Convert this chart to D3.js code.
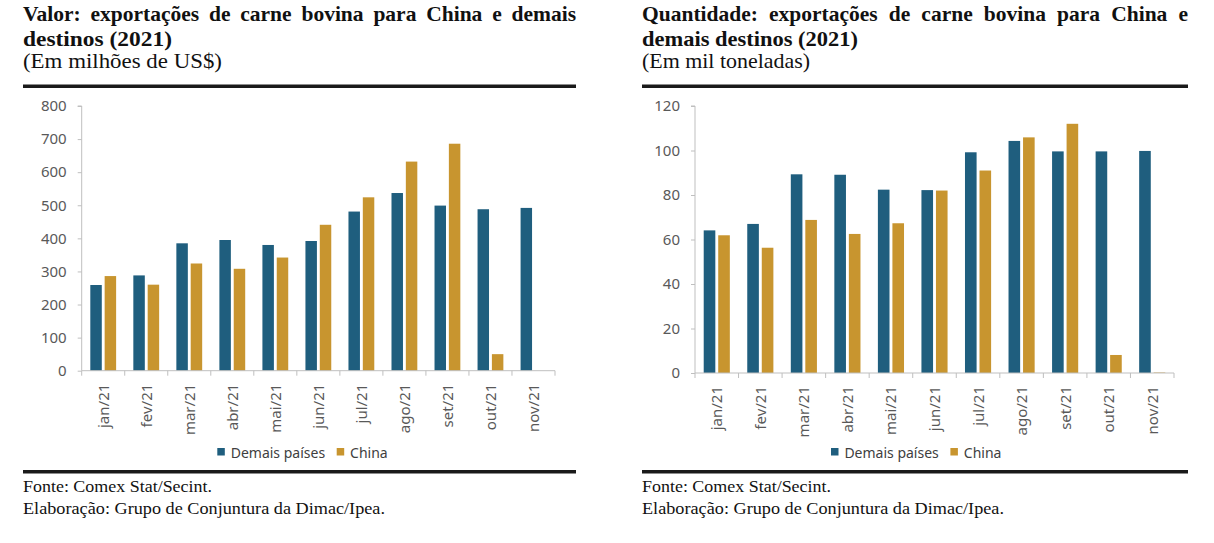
<!DOCTYPE html>
<html>
<head>
<meta charset="utf-8">
<script src="https://cdn.jsdelivr.net/npm/d3@7"></script>
<style>
  html, body { margin: 0; padding: 0; background: #fff; }
  svg { display: block; }
</style>
</head>
<body>
<svg id="chart" width="1214" height="543"></svg>
<script>
// ---------- DATA ----------
const months = ["jan/21","fev/21","mar/21","abr/21","mai/21","jun/21","jul/21","ago/21","set/21","out/21","nov/21"];
const seriesNames = ["Demais países", "China"];

const valorDemais = [259, 288, 385, 395, 380, 392, 481, 537, 499, 488, 492];
const valorChina  = [286, 260, 324, 308, 342, 441, 524, 632, 686, 50, 0];
const valorTicks  = [0, 100, 200, 300, 400, 500, 600, 700, 800];

const quantDemais = [64.1, 67.0, 89.3, 89.1, 82.4, 82.2, 99.2, 104.3, 99.6, 99.6, 99.8];
const quantChina  = [61.9, 56.3, 68.8, 62.5, 67.3, 82.0, 91.0, 105.9, 112.0, 8.1, 0.2];
const quantTicks  = [0, 20, 40, 60, 80, 100, 120];

const colors = ["#1f5e7e", "#c8952f"];

const panels = [
  {
    title: ["Valor: exportações de carne bovina para China e demais", "destinos (2021)"],
    subtitle: "(Em milhões de US$)",
    demais: valorDemais, china: valorChina, ticks: valorTicks, max: 800,
    left: 23, right: 576, x0: 81.7, x1: 555, y0: 370.7, yTop: 106,
    subW: 199, t2W: 149, legendX: 217.3
  },
  {
    title: ["Quantidade: exportações de carne bovina para China e", "demais destinos (2021)"],
    subtitle: "(Em mil toneladas)",
    demais: quantDemais, china: quantChina, ticks: quantTicks, max: 120,
    left: 642, right: 1188, x0: 695, x1: 1174, y0: 373, yTop: 106,
    subW: 168, t2W: 216, legendX: 831
  }
];

const footer1 = "Fonte: Comex Stat/Secint.";
const footer2 = "Elaboração: Grupo de Conjuntura da Dimac/Ipea.";

// ---------- DRAW ----------
const svg = d3.select("#chart");
const serif = "'Liberation Serif', 'Times New Roman', serif";
const sans = "'Noto Sans', 'Open Sans', sans-serif";

function justifyLine(g, words, x, y, width, style) {
  const tmp = g.append("text").attr("font-family", serif).attr("font-size", style.size).attr("font-weight", style.weight);
  const widths = words.map(w => { tmp.text(w); return tmp.node().getComputedTextLength(); });
  tmp.remove();
  const total = d3.sum(widths);
  const gap = (width - total) / (words.length - 1);
  let cx = x;
  words.forEach((w, i) => {
    g.append("text")
      .attr("x", cx).attr("y", y)
      .attr("font-family", serif).attr("font-size", style.size).attr("font-weight", style.weight)
      .attr("fill", "#111")
      .text(w);
    cx += widths[i] + gap;
  });
}

panels.forEach(p => {
  const g = svg.append("g");

  // Title
  justifyLine(g, p.title[0].split(" "), p.left, 21, p.right - p.left, {size: 21.5, weight: "bold"});
  g.append("text").attr("x", p.left).attr("y", 46)
    .attr("font-family", serif).attr("font-size", 21.5).attr("font-weight", "bold").attr("fill", "#111")
    .attr("textLength", p.t2W).attr("lengthAdjust", "spacingAndGlyphs")
    .text(p.title[1]);
  g.append("text").attr("x", p.left).attr("y", 68)
    .attr("font-family", serif).attr("font-size", 21.5).attr("fill", "#111")
    .attr("textLength", p.subW).attr("lengthAdjust", "spacingAndGlyphs")
    .text(p.subtitle);

  // Rules
  g.append("rect").attr("x", p.left).attr("y", 84.5).attr("width", p.right - p.left).attr("height", 3.5).attr("fill", "#1a1a1a");
  g.append("rect").attr("x", p.left).attr("y", 470).attr("width", p.right - p.left).attr("height", 3.5).attr("fill", "#1a1a1a");

  // Scales
  const x = d3.scaleBand().domain(months).range([p.x0, p.x1]).paddingInner(0).paddingOuter(0);
  const xs = d3.scaleBand().domain(seriesNames).range([0, x.bandwidth()]).paddingInner(0.2).paddingOuter(0.6);
  const y = d3.scaleLinear().domain([0, p.max]).range([p.y0, p.yTop]);

  // Bars
  const rows = months.map((m, i) => ({m, vals: [p.demais[i], p.china[i]]}));
  const grp = g.append("g").selectAll("g").data(rows).join("g")
    .attr("transform", d => `translate(${x(d.m)},0)`);
  grp.selectAll("rect").data(d => d.vals.map((v, k) => ({v, k})))
    .join("rect")
    .attr("x", d => xs(seriesNames[d.k]))
    .attr("width", xs.bandwidth())
    .attr("y", d => y(d.v))
    .attr("height", d => Math.max(0, y(0) - y(d.v)))
    .attr("fill", d => colors[d.k]);

  // Y axis
  const yAxis = d3.axisLeft(y).tickValues(p.ticks).tickSize(4).tickPadding(11).tickFormat(d3.format("d"));
  const ya = g.append("g").attr("transform", `translate(${p.x0},0)`).call(yAxis);
  ya.select(".domain").attr("stroke", "#bfbfbf").attr("d", `M-4,${y(p.max)}H0V${y(0)}`);
  ya.selectAll(".tick line").attr("stroke", "#bfbfbf");
  ya.selectAll(".tick text").attr("font-family", sans).attr("font-size", 15).attr("fill", "#595959");

  // X axis
  const xa = g.append("g").attr("transform", `translate(0,${p.y0})`);
  xa.append("line").attr("x1", p.x0).attr("x2", p.x1).attr("stroke", "#bfbfbf");
  const boundaries = months.map(m => x(m)).concat([p.x1]);
  xa.selectAll("line.tk").data(boundaries).join("line").attr("class", "tk")
    .attr("x1", d => d).attr("x2", d => d).attr("y1", 0).attr("y2", 5).attr("stroke", "#bfbfbf");
  xa.selectAll("text").data(months).join("text")
    .attr("transform", d => `translate(${x(d) + x.bandwidth() / 2 + 5.5},13) rotate(-90)`)
    .attr("text-anchor", "end")
    .attr("font-family", sans).attr("font-size", 15).attr("fill", "#595959")
    .text(d => d);

  // Legend
  const lg = g.append("g").attr("transform", `translate(${p.legendX},448)`);
  const legendOffsets = [0, 119.4];
  seriesNames.forEach((s, k) => {
    lg.append("rect").attr("x", legendOffsets[k]).attr("y", 0).attr("width", 7.5).attr("height", 7.5).attr("fill", colors[k]);
    lg.append("text").attr("x", legendOffsets[k] + 13.4).attr("y", 9.5)
      .attr("font-family", sans).attr("font-size", 14).attr("fill", "#404040").text(s);
  });

  // Footer
  g.append("text").attr("x", p.left).attr("y", 492)
    .attr("font-family", serif).attr("font-size", 17.5).attr("fill", "#111")
    .attr("textLength", 189).attr("lengthAdjust", "spacingAndGlyphs").text(footer1);
  g.append("text").attr("x", p.left).attr("y", 514)
    .attr("font-family", serif).attr("font-size", 17.5).attr("fill", "#111")
    .attr("textLength", 362).attr("lengthAdjust", "spacingAndGlyphs").text(footer2);
});
</script>
</body>
</html>
